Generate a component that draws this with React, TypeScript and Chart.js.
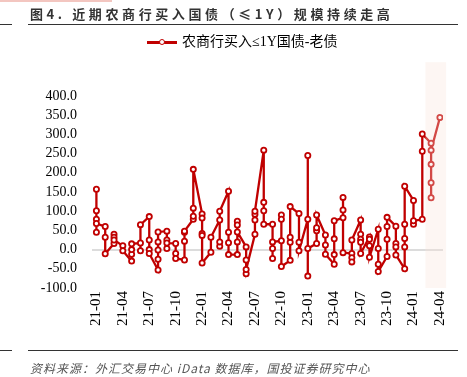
import React, { useEffect, useRef } from "react";
import { Chart, registerables } from "chart.js";

Chart.register(...registerables);

// ---------- DATA ----------
const monthLabels = [
  "21-01", "21-02", "21-03", "21-04", "21-05", "21-06", "21-07", "21-08", "21-09", "21-10", "21-11", "21-12",
  "22-01", "22-02", "22-03", "22-04", "22-05", "22-06", "22-07", "22-08", "22-09", "22-10", "22-11", "22-12",
  "23-01", "23-02", "23-03", "23-04", "23-05", "23-06", "23-07", "23-08", "23-09", "23-10", "23-11", "23-12",
  "24-01", "24-02", "24-03", "24-04",
];

const tickLabels = [
  "21-01", "21-04", "21-07", "21-10", "22-01", "22-04", "22-07",
  "22-10", "23-01", "23-04", "23-07", "23-10", "24-01", "24-04",
];

const seriesName = "农商行买入≤1Y国债-老债";

// observations within each month (亿元), in order of occurrence
const monthlyValues: number[][] = [
  [157, 45, 101, 79, 68],
  [60, 32, -11],
  [16, 40, 32, 25],
  [10, -3],
  [-30, -12, 0, 15],
  [17, -3, 65],
  [86, 25, 0, -10],
  [-53, -25, -1, 20, 46],
  [48, 3, 25, 17],
  [16, -10, -23],
  [-27, 22, 45, 48],
  [79, 87, 108, 209],
  [93, 82, 42, 37, -35],
  [-7, 32],
  [77, 9, 20, 100],
  [152, 45, 18, -13],
  [-13, 20, 74, 64, 46],
  [7, -27, -63, -52],
  [40, 77, 92, 100],
  [259, 123, 101, 66],
  [66, 3, -23, 20],
  [23, 90, 79, -44],
  [-28, 19, 32, 112],
  [94, 19, -3],
  [79, 245, -69, 3],
  [16, 49, 57, 90],
  [38, 12, -12],
  [-38, -13, 28, 75],
  [83, 136, 103, -8],
  [-10, -21, -32, 25],
  [77, 40, 27, 19, -10],
  [33, 27, 10, -20],
  [53, 3, -38, -57],
  [-18, 27, 60, 84],
  [61, 16, 7, -14],
  [-50, 7, 29, 66, 165],
  [128, 66, 75],
  [79, 256, 301],
  [277, 135, 174, 222, 259],
  [344],
];

const yMin = -100;
const yMax = 400;
const yStep = 50;

// highlighted recent period (in month-index units / value units)
const highlightFrom = 37.35;
const highlightTo = 39.7;
const highlightTop = 488;

// ---------- STYLE ----------
const RED = "#C00000";
const serif = "'Liberation Serif', 'Times New Roman', serif";

const highlightPlugin = {
  id: "highlightBand",
  afterDatasetsDraw(chart: any) {
    const { ctx, scales } = chart;
    const x = scales.x;
    const y = scales.y;
    const x1 = x.getPixelForValue(highlightFrom);
    const x2 = x.getPixelForValue(highlightTo);
    const y1 = y.getPixelForValue(highlightTop);
    const y2 = y.getPixelForValue(yMin);
    ctx.save();
    ctx.fillStyle = "rgba(250, 226, 219, 0.32)";
    ctx.fillRect(x1, y1, x2 - x1, y2 - y1);
    ctx.restore();
  },
};

export default function App() {
  const ref = useRef<HTMLCanvasElement | null>(null);

  useEffect(() => {
    if (!ref.current) return;
    const points: { x: number; y: number }[] = [];
    monthlyValues.forEach((vals, i) => vals.forEach((v) => points.push({ x: i, y: v })));

    const chart = new Chart(ref.current, {
      type: "line",
      data: {
        datasets: [
          {
            label: seriesName,
            data: points,
            borderColor: RED,
            borderWidth: 2.3,
            pointRadius: 2.6,
            pointBorderWidth: 1.8,
            pointBackgroundColor: "#ffffff",
            pointBorderColor: RED,
            tension: 0,
          },
        ],
      },
      options: {
        responsive: false,
        animation: false,
        events: [],
        layout: { padding: { top: 96, right: 24, bottom: 39, left: 0 } },
        plugins: {
          legend: { display: false },
          title: { display: false },
          tooltip: { enabled: false },
        },
        scales: {
          x: {
            type: "linear",
            min: -0.5,
            max: 39.35,
            afterBuildTicks: (scale: any) => {
              scale.ticks = tickLabels.map((_, i) => ({ value: i * 3 }));
            },
            afterFit: (scale: any) => {
              scale.height = 50;
            },
            ticks: {
              autoSkip: false,
              minRotation: 90,
              maxRotation: 90,
              padding: 3,
              color: "#000",
              font: { family: serif, size: 15 },
              callback: (v: any) => monthLabels[Math.round(Number(v))] ?? "",
            },
            grid: { display: false, drawTicks: false },
            border: { display: false },
          },
          y: {
            min: yMin,
            max: yMax,
            afterFit: (scale: any) => {
              scale.width = 92;
            },
            ticks: {
              stepSize: yStep,
              autoSkip: false,
              padding: 15,
              color: "#000",
              font: { family: serif, size: 14 },
              callback: (v: any) => Number(v).toFixed(1),
            },
            grid: {
              drawTicks: false,
              lineWidth: 2,
              color: (c: any) => (c.tick && c.tick.value === 0 ? "#dcdcdc" : "rgba(0,0,0,0)"),
            },
            border: { display: false },
          },
        },
      },
      plugins: [highlightPlugin],
    });
    return () => chart.destroy();
  }, []);

  const abs: React.CSSProperties = { position: "absolute" };

  return (
    <div style={{ position: "absolute", left: 0, top: 0, width: 467, height: 377, background: "#fff", overflow: "hidden" }}>
      <canvas ref={ref} width={467} height={377} style={{ ...abs, left: 0, top: 0, width: 467, height: 377 }} />
      <div style={{ ...abs, left: 0, top: 0, width: 112, height: 2, background: "#f3c6c0" }} />
      <div
        style={{
          ...abs,
          left: 30,
          top: 4,
          fontFamily: "'Noto Sans CJK SC', sans-serif",
          fontWeight: 700,
          fontSize: 13,
          letterSpacing: 3.6,
          lineHeight: "20px",
          color: "#333",
          whiteSpace: "nowrap",
        }}
      >
        图4. 近期农商行买入国债（≤1Y）规模持续走高
      </div>
      <div style={{ ...abs, left: 28, top: 24, width: 430, height: 1, background: "#333" }} />
      <div style={{ ...abs, left: 0, top: 24, width: 12, height: 1, background: "#333" }} />

      <div style={{ ...abs, left: 147, top: 34, height: 16, display: "flex", alignItems: "center", whiteSpace: "nowrap" }}>
        <div style={{ position: "relative", width: 30, height: 16 }}>
          <div style={{ ...abs, left: 0, top: 7, width: 30, height: 2.5, background: RED }} />
          <div
            style={{
              ...abs,
              left: 11.5,
              top: 4.5,
              width: 4,
              height: 4,
              border: `1.8px solid ${RED}`,
              borderRadius: "50%",
              background: "#fff",
            }}
          />
        </div>
        <span style={{ marginLeft: 5, fontFamily: `${serif}, 'Noto Sans CJK SC'`, fontSize: 14, color: "#000", lineHeight: "16px" }}>
          {seriesName}
        </span>
      </div>

      <div style={{ ...abs, left: 28, top: 350, width: 430, height: 1, background: "#333" }} />
      <div style={{ ...abs, left: 0, top: 350, width: 12, height: 1, background: "#333" }} />
      <div
        style={{
          ...abs,
          left: 30,
          top: 360,
          fontFamily: "'Noto Sans CJK SC', sans-serif",
          fontStyle: "italic",
          fontSize: 12,
          letterSpacing: 1,
          lineHeight: "16px",
          color: "#555",
          whiteSpace: "nowrap",
        }}
      >
        资料来源：外汇交易中心 iData 数据库，国投证券研究中心
      </div>
    </div>
  );
}
